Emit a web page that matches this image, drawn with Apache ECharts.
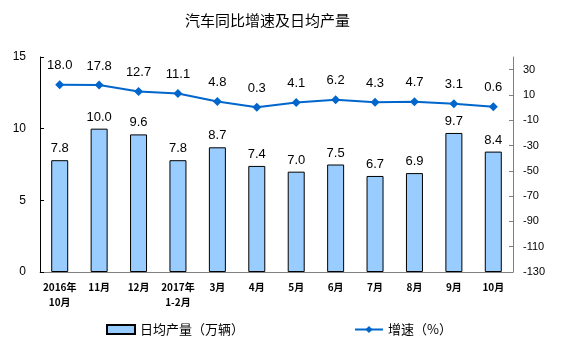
<!DOCTYPE html>
<html>
<head>
<meta charset="utf-8">
<script src="https://cdn.jsdelivr.net/npm/echarts@6/dist/echarts.min.js"></script>
<style>
  html, body { margin: 0; padding: 0; background: #fff; }
  #main { width: 564px; height: 351px; }
</style>
</head>
<body>
<div id="main"></div>
<script>
// 月份
const categories = ['2016年\n10月', '11月', '12月', '2017年\n1-2月', '3月', '4月', '5月', '6月', '7月', '8月', '9月', '10月']
// 日均产量（万辆）
const dailyOutput = [7.8, 10.0, 9.6, 7.8, 8.7, 7.4, 7.0, 7.5, 6.7, 6.9, 9.7, 8.4]
// 增速（%）
const growth = [18.0, 17.8, 12.7, 11.1, 4.8, 0.3, 4.1, 6.2, 4.3, 4.7, 3.1, 0.6]

const font = 'Liberation Sans, Arial, Noto Sans CJK SC'

const chart = echarts.init(document.getElementById('main'))

const option = {
  animation: false,
  backgroundColor: '#fff',
  textStyle: { fontFamily: font },
  title: {
    text: '汽车同比增速及日均产量',
    left: 180,
    top: 8,
    textStyle: { fontSize: 15, fontWeight: 'normal', color: '#000', fontFamily: 'Noto Sans CJK SC' }
  },
  legend: {
    bottom: 10,
    left: 101,
    itemGap: 110,
    itemWidth: 28,
    itemHeight: 9,
    textStyle: { fontSize: 13, color: '#000', fontFamily: 'Noto Sans CJK SC' },
    data: [
      { name: '日均产量（万辆）', icon: 'rect' },
      { name: '增速（%）' }
    ]
  },
  grid: {
    left: 40,
    right: 51,
    top: 57,
    bottom: 79
  },
  xAxis: {
    type: 'category',
    data: categories,
    axisLine: { lineStyle: { color: '#808080' } },
    axisTick: { inside: true, length: 3, lineStyle: { color: '#808080' } },
    axisLabel: {
      interval: 0,
      fontSize: 10,
      color: '#000',
      fontWeight: 'bold',
      margin: 8,
      lineHeight: 15,
      fontFamily: 'Noto Sans CJK SC'
    }
  },
  yAxis: [
    {
      type: 'value',
      min: 0,
      max: 15,
      interval: 5,
      splitLine: { show: false },
      axisLine: { show: true, lineStyle: { color: '#000' } },
      axisTick: { show: true, inside: true, length: 4, lineStyle: { color: '#000' } },
      axisLabel: { fontSize: 12, color: '#000', margin: 14 }
    },
    {
      type: 'value',
      min: -130,
      max: 40,
      interval: 20,
      splitLine: { show: false },
      axisLine: { show: true, lineStyle: { color: '#808080' } },
      axisTick: { show: true, inside: true, length: 4, lineStyle: { color: '#808080' } },
      axisLabel: { fontSize: 11, color: '#000', margin: 10, showMaxLabel: false }
    }
  ],
  series: [
    {
      name: '日均产量（万辆）',
      type: 'bar',
      yAxisIndex: 0,
      barWidth: 17,
      data: dailyOutput,
      itemStyle: { color: '#99CCFF', borderColor: '#000', borderWidth: 1 },
      label: {
        show: true,
        position: 'top',
        distance: 5,
        fontSize: 13,
        color: '#000',
        formatter: p => p.value.toFixed(1)
      }
    },
    {
      name: '增速（%）',
      type: 'line',
      yAxisIndex: 1,
      data: growth,
      symbol: 'diamond',
      symbolSize: 9,
      lineStyle: { color: '#0066CC', width: 2 },
      itemStyle: { color: '#0066CC' },
      label: {
        show: true,
        position: 'top',
        distance: 8,
        fontSize: 13,
        color: '#000',
        formatter: p => p.value.toFixed(1)
      }
    }
  ]
}

chart.setOption(option)
</script>
</body>
</html>
